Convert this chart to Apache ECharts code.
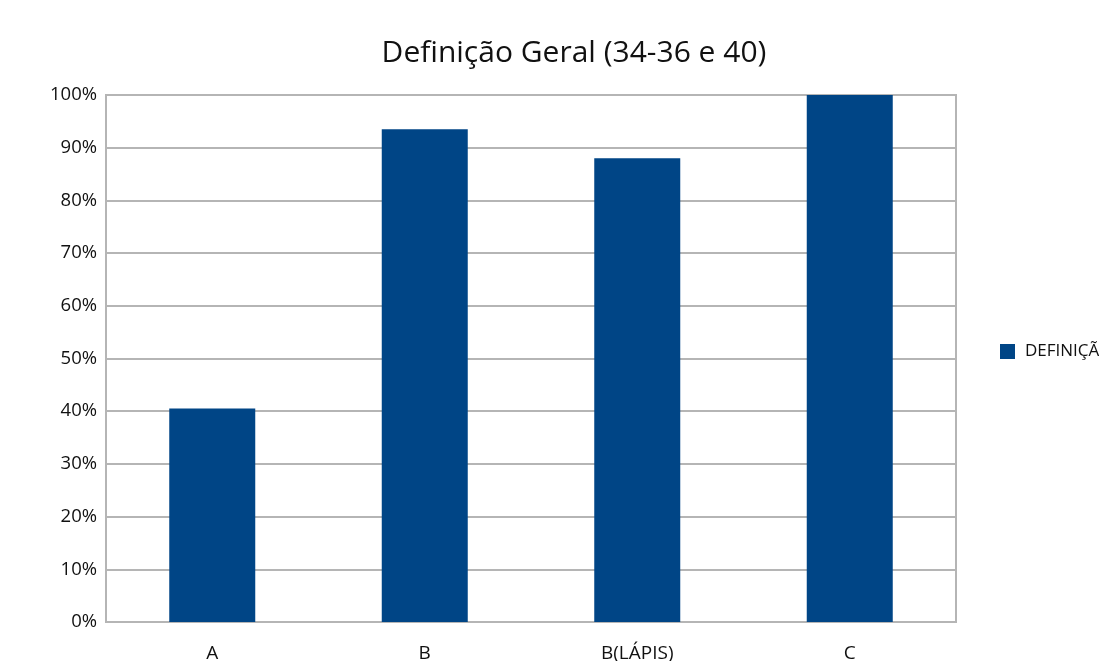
<!DOCTYPE html>
<html>
<head>
<meta charset="utf-8">
<script src="https://cdn.jsdelivr.net/npm/echarts@6/dist/echarts.min.js"></script>
<style>
  html, body { margin: 0; padding: 0; background: #ffffff; overflow: hidden; }
  #chart { width: 1099px; height: 661px; }
</style>
</head>
<body>
<div id="chart"></div>
<script>
// Categories and values (share of responses, in %)
const categories = ['A', 'B', 'B(LÁPIS)', 'C'];
const definicaoValues = [40.5, 93.5, 88.0, 100];
const seriesName = 'DEFINIÇÃO';
const titleText = 'Definição Geral (34-36 e 40)';

const chart = echarts.init(document.getElementById('chart'), null, { renderer: 'canvas' });
const fontFamily = '"Open Sans", "Noto Sans", sans-serif';
const gridGrey = '#b5b5b5';

chart.setOption({
  animation: false,
  backgroundColor: '#ffffff',
  title: {
    text: titleText,
    left: 569,
    top: 33,
    textAlign: 'center',
    textStyle: { fontFamily, fontSize: 30, fontWeight: 'normal', color: '#111111' }
  },
  legend: {
    left: 1000,
    top: 343,
    orient: 'vertical',
    itemWidth: 15,
    itemHeight: 15,
    itemGap: 8,
    padding: 0,
    icon: 'rect',
    textStyle: { fontFamily, fontSize: 17, color: '#111111', padding: [0, 0, 0, 5] },
    data: [seriesName]
  },
  grid: {
    left: 106,
    right: 143,
    top: 95,
    bottom: 39,
    outerBoundsMode: 'none',
    show: true,
    borderColor: gridGrey,
    borderWidth: 2,
    containLabel: false
  },
  xAxis: {
    type: 'category',
    data: categories,
    axisLine: { show: true, lineStyle: { color: gridGrey, width: 2 } },
    axisTick: { show: false },
    axisLabel: { fontFamily, fontSize: 19, color: '#111111', margin: 22 }
  },
  yAxis: {
    type: 'value',
    min: 0,
    max: 100,
    interval: 10,
    axisLine: { show: true, lineStyle: { color: gridGrey, width: 2 } },
    axisTick: { show: false },
    splitLine: { show: true, lineStyle: { color: gridGrey, width: 2 } },
    axisLabel: { fontFamily, fontSize: 18.5, color: '#111111', margin: 9, formatter: '{value}%' }
  },
  series: [{
    name: seriesName,
    type: 'bar',
    data: definicaoValues,
    barWidth: 86,
    itemStyle: { color: '#004586' }
  }]
});
</script>
</body>
</html>
